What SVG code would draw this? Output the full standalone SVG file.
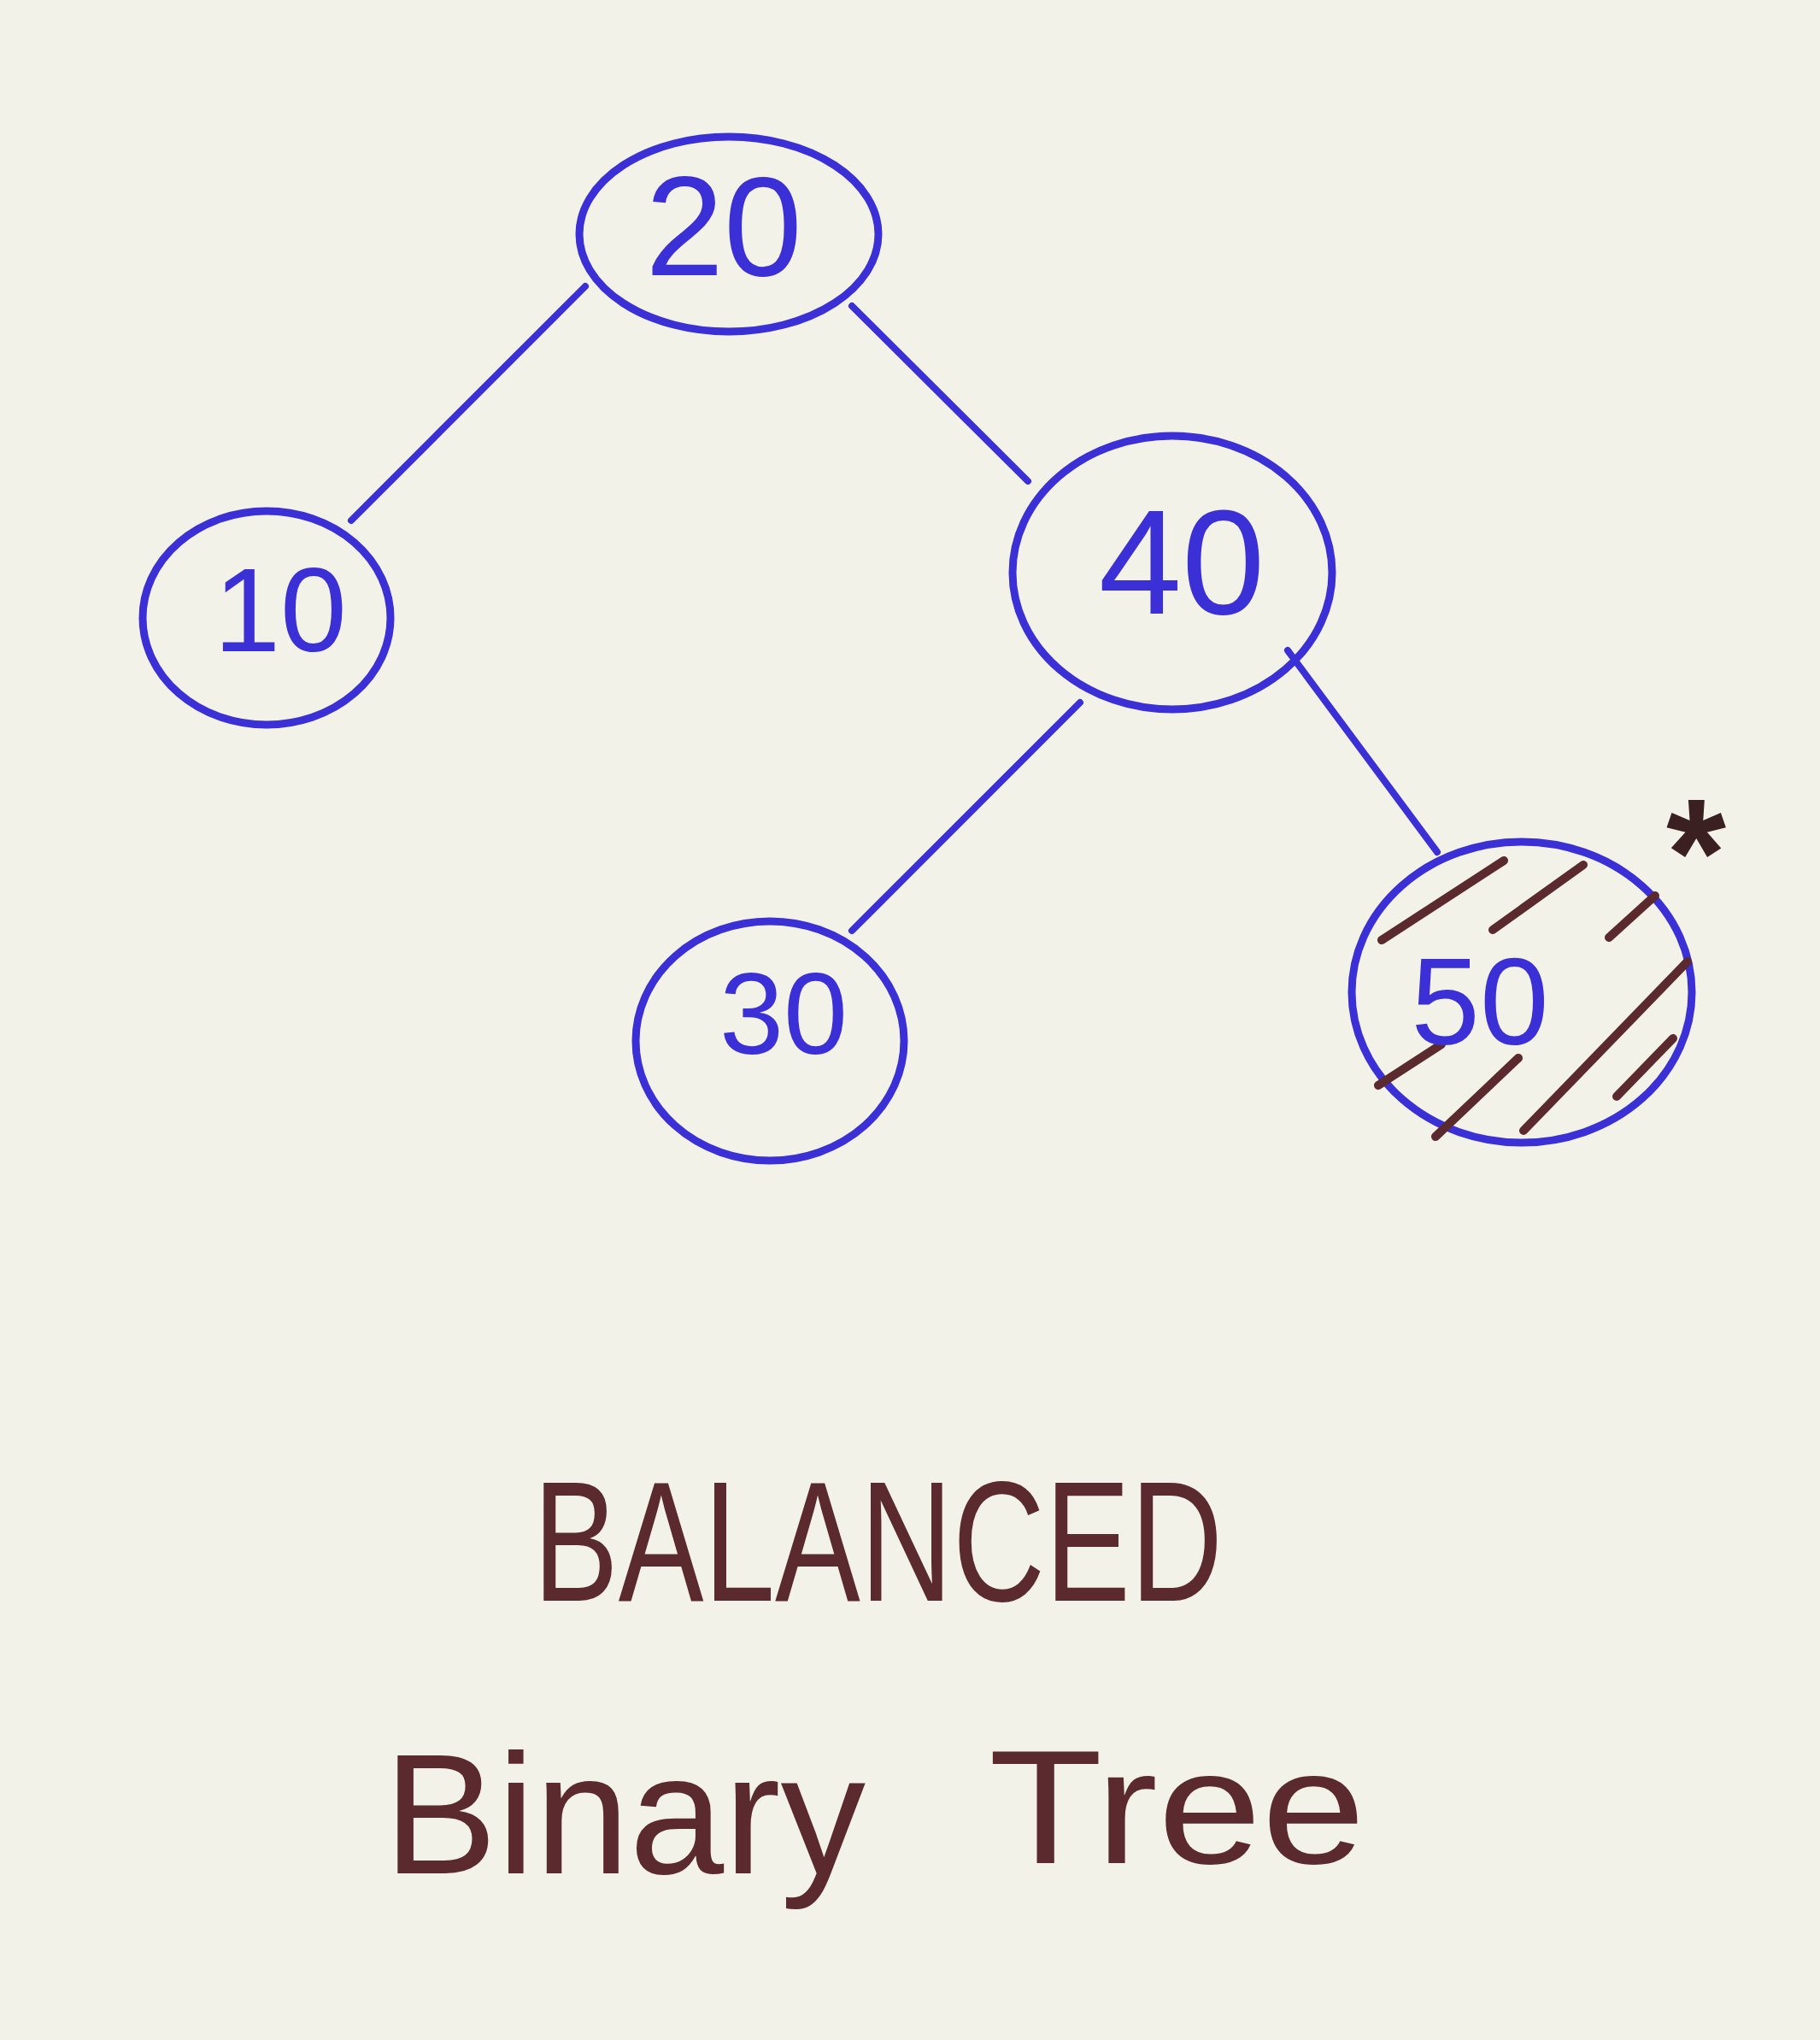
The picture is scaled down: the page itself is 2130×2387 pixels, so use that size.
<svg xmlns="http://www.w3.org/2000/svg" width="2130" height="2387" viewBox="0 0 2130 2387">
<style>
.node{fill:none;stroke:#3b2fd6;stroke-width:9}
.num{fill:#3b2fd6;font-family:"Liberation Sans",sans-serif;text-anchor:middle}
.edge{stroke:#3b2fd6;stroke-width:8;fill:none;stroke-linecap:round}
.hatch{stroke:#5b2a2e;stroke-width:10;stroke-linecap:round}
.caption{fill:#5b2a2e;font-family:"Liberation Sans",sans-serif}
</style>
<rect width="2130" height="2387" fill="#f3f2e8"/>
<g id="connectors">
<line class="edge" x1="685" y1="335" x2="411" y2="609"/>
<line class="edge" x1="997" y1="358" x2="1203" y2="563"/>
<line class="edge" x1="1264" y1="822" x2="997" y2="1089"/>
<line class="edge" x1="1507" y1="761" x2="1682" y2="997"/>
</g>
<g id="node20">
<ellipse class="node" cx="853" cy="274" rx="175" ry="114"/>
<text class="num" x="847" y="322" font-size="165">20</text>
</g>
<g id="node10">
<ellipse class="node" cx="312" cy="723" rx="145" ry="125"/>
<text class="num" x="328" y="762" font-size="140">10</text>
</g>
<g id="node40">
<ellipse class="node" cx="1372" cy="670" rx="187" ry="160"/>
<text class="num" x="1383" y="718" font-size="175">40</text>
</g>
<g id="node30">
<ellipse class="node" cx="901" cy="1218" rx="157" ry="140"/>
<text class="num" x="917" y="1233" font-size="135">30</text>
</g>
<g id="node50">
<ellipse class="node" cx="1781" cy="1161" rx="199" ry="176"/>
<g id="hatching">
<line class="hatch" x1="1617" y1="1100" x2="1760" y2="1007"/>
<line class="hatch" x1="1747" y1="1088" x2="1853" y2="1012"/>
<line class="hatch" x1="1883" y1="1097" x2="1937" y2="1048"/>
<line class="hatch" x1="1613" y1="1270" x2="1687" y2="1222"/>
<line class="hatch" x1="1680" y1="1330" x2="1777" y2="1238"/>
<line class="hatch" x1="1783" y1="1323" x2="1975" y2="1125"/>
<line class="hatch" x1="1892" y1="1283" x2="1958" y2="1215"/>
</g>
<text class="num" x="1732" y="1222" font-size="145">50</text>
<text x="1985" y="1060" font-size="180" font-weight="bold" fill="#3a2020" font-family="Liberation Sans,sans-serif" text-anchor="middle">*</text>
</g>
<g id="caption">
<text class="caption" x="624" y="1873" font-size="200" textLength="807" lengthAdjust="spacingAndGlyphs">BALANCED</text>
<text class="caption" x="449" y="2192" font-size="200" textLength="564" lengthAdjust="spacingAndGlyphs">Binary</text>
<text class="caption" x="1157" y="2180" font-size="190" textLength="441" lengthAdjust="spacingAndGlyphs">Tree</text>
</g>
</svg>
